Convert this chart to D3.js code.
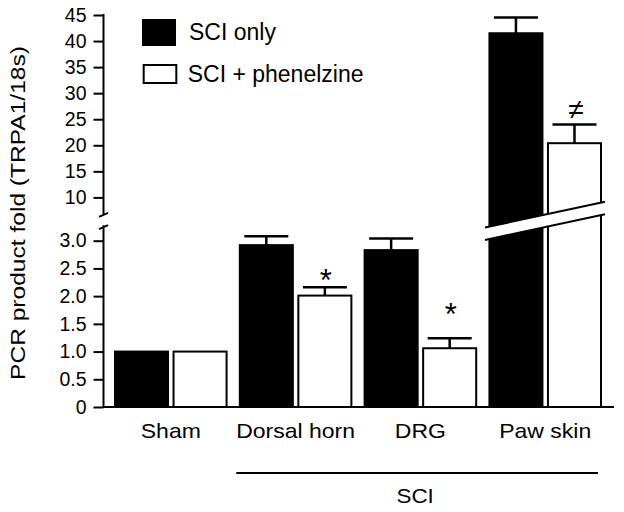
<!DOCTYPE html>
<html>
<head>
<meta charset="utf-8">
<script src="https://cdn.jsdelivr.net/npm/d3@7"></script>
<style>
html,body{margin:0;padding:0;background:#fff;}
svg{display:block;font-family:"Liberation Sans",Arial,Helvetica,sans-serif;}
</style>
</head>
<body>
<svg id="chart" width="624" height="512"></svg>
<script>
// ---- data ----
const categories = ["Sham", "Dorsal horn", "DRG", "Paw skin"];
const seriesNames = ["SCI only", "SCI + phenelzine"];
const sciOnly = [1.0, 2.92, 2.83, 41.5];
const sciOnlyErr = [0, 0.16, 0.21, 3.0];
const sciPhen = [1.0, 2.01, 1.06, 20.4];
const sciPhenErr = [0, 0.15, 0.18, 3.6];
const lowTicks = [0, 0.5, 1.0, 1.5, 2.0, 2.5, 3.0];
const lowTickLabels = ["0", "0.5", "1.0", "1.5", "2.0", "2.5", "3.0"];
const highTicks = [10, 15, 20, 25, 30, 35, 40, 45];
const markCats = ["Dorsal horn", "DRG", "Paw skin"];
const markSymbols = ["*", "*", "\u2260"];
const markValues = [2.41, 1.79, 26.8];
const brokenCat = "Paw skin";

// ---- layout ----
const svg = d3.select("#chart");
const axisX = 103.5;
const yLow = d3.scaleLinear().domain([0, 3]).range([407, 240.7]);
const yHigh = d3.scaleLinear().domain([10, 45]).range([197.4, 15]);
const lowTopValue = 3.28, highBottomValue = 6.75;
const x = d3.scaleBand().domain(categories).range([114, 602]).paddingInner(0.09).paddingOuter(0);
const xs = d3.scaleBand().domain(seriesNames).range([1, x.bandwidth() - 1]).paddingInner(0.094);
const fills = {"SCI only": "#000", "SCI + phenelzine": "#fff"};

// break lines on the broken bars
const bx0 = 485, bx1 = 605;
const topLine = xx => 227.5 + (xx - bx0) * (-25.8 / 120);
const botLine = xx => 240 + (xx - bx0) * (-25.8 / 120);

const defs = svg.append("defs");
defs.append("clipPath").attr("id", "clipUp").append("polygon")
  .attr("points", [[460, topLine(460)], [624, topLine(624)], [624, 0], [460, 0]].map(p => p.join(",")).join(" "));
defs.append("clipPath").attr("id", "clipLow").append("polygon")
  .attr("points", [[460, botLine(460)], [624, botLine(624)], [624, 512], [460, 512]].map(p => p.join(",")).join(" "));

const rows = categories.map((c, i) => ({
  cat: c,
  bars: [
    {s: seriesNames[0], v: sciOnly[i], e: sciOnlyErr[i]},
    {s: seriesNames[1], v: sciPhen[i], e: sciPhenErr[i]}
  ]
}));

const barG = svg.append("g");
function errBar(cx, y0, y1) {
  barG.append("line").attr("x1", cx).attr("x2", cx).attr("y1", y0).attr("y2", y1)
    .attr("stroke", "#000").attr("stroke-width", 2.5);
  barG.append("line").attr("x1", cx - 22).attr("x2", cx + 22).attr("y1", y1).attr("y2", y1)
    .attr("stroke", "#000").attr("stroke-width", 2.5);
}
rows.forEach(r => {
  r.bars.forEach(b => {
    const bx = x(r.cat) + xs(b.s), bw = xs.bandwidth();
    if (r.cat === brokenCat) {
      barG.append("rect").attr("clip-path", "url(#clipLow)")
        .attr("x", bx).attr("width", bw)
        .attr("y", yLow(3.7)).attr("height", yLow(0) - yLow(3.7))
        .attr("fill", fills[b.s]).attr("stroke", "#000").attr("stroke-width", 2);
      barG.append("rect").attr("clip-path", "url(#clipUp)")
        .attr("x", bx).attr("width", bw)
        .attr("y", yHigh(b.v)).attr("height", yHigh(3) - yHigh(b.v))
        .attr("fill", fills[b.s]).attr("stroke", "#000").attr("stroke-width", 2);
      if (b.e > 0) errBar(bx + bw / 2, yHigh(b.v), yHigh(b.v + b.e));
    } else {
      barG.append("rect")
        .attr("x", bx).attr("width", bw)
        .attr("y", yLow(b.v)).attr("height", yLow(0) - yLow(b.v))
        .attr("fill", fills[b.s]).attr("stroke", "#000").attr("stroke-width", 2);
      if (b.e > 0) errBar(bx + bw / 2, yLow(b.v), yLow(b.v + b.e));
    }
  });
});

// break lines
[topLine, botLine].forEach(f => {
  svg.append("line").attr("x1", bx0).attr("x2", bx1).attr("y1", f(bx0)).attr("y2", f(bx1))
    .attr("stroke", "#000").attr("stroke-width", 2);
});

// significance marks
markCats.forEach((c, i) => {
  const cx = x(c) + xs(seriesNames[1]) + xs.bandwidth() / 2;
  const isHigh = c === brokenCat;
  const cy = isHigh ? yHigh(markValues[i]) : yLow(markValues[i]);
  const sym = markSymbols[i];
  svg.append("text").attr("x", cx + (sym === "*" ? 1 : 1.5))
    .attr("y", cy + (sym === "*" ? 17.5 : 9.5))
    .attr("text-anchor", "middle")
    .attr("font-size", sym === "*" ? 31 : 28)
    .text(sym);
});

// axes
const axLow = d3.axisLeft(yLow).tickValues(lowTicks).tickFormat((d, i) => lowTickLabels[i])
  .tickSize(10).tickPadding(7).tickSizeOuter(0);
const axHigh = d3.axisLeft(yHigh).tickValues(highTicks).tickFormat(d3.format("d"))
  .tickSize(10).tickPadding(7).tickSizeOuter(0);
[axLow, axHigh].forEach(ax => {
  const g = svg.append("g").attr("transform", `translate(${axisX},0)`).call(ax);
  g.select(".domain").remove();
  g.selectAll(".tick line").attr("stroke", "#000").attr("stroke-width", 2);
  g.selectAll(".tick text").attr("fill", "#000").attr("font-size", 19.5)
    .attr("font-family", '"Liberation Sans",Arial,sans-serif');
});
// axis spines with break
svg.append("line").attr("x1", axisX).attr("x2", axisX).attr("y1", yLow(0)).attr("y2", yLow(lowTopValue))
  .attr("stroke", "#000").attr("stroke-width", 2);
svg.append("line").attr("x1", axisX).attr("x2", axisX).attr("y1", yHigh(45) - 1).attr("y2", yHigh(highBottomValue))
  .attr("stroke", "#000").attr("stroke-width", 2);
svg.append("line").attr("x1", axisX - 4.5).attr("x2", axisX + 4.5)
  .attr("y1", yHigh(highBottomValue) + 2.5).attr("y2", yHigh(highBottomValue) - 1.5)
  .attr("stroke", "#000").attr("stroke-width", 2);
svg.append("line").attr("x1", axisX - 4.5).attr("x2", axisX + 4.5)
  .attr("y1", yLow(lowTopValue) + 4).attr("y2", yLow(lowTopValue))
  .attr("stroke", "#000").attr("stroke-width", 2);
// x baseline
svg.append("line").attr("x1", axisX - 1).attr("x2", 614).attr("y1", yLow(0)).attr("y2", yLow(0))
  .attr("stroke", "#000").attr("stroke-width", 2);

// category labels
categories.forEach(c => {
  svg.append("text")
    .attr("transform", `translate(${x(c) + x.bandwidth() / 2},438) scale(1.15,1)`)
    .attr("text-anchor", "middle").attr("font-size", 20).text(c);
});
// SCI grouping line
const gx0 = x("Dorsal horn") - 2.5, gx1 = x("Paw skin") + x.bandwidth() - 4;
svg.append("line").attr("x1", gx0).attr("x2", gx1).attr("y1", 473).attr("y2", 473)
  .attr("stroke", "#000").attr("stroke-width", 2);
svg.append("text").attr("transform", `translate(${(gx0 + gx1) / 2 - 2},503) scale(1.12,1)`)
  .attr("text-anchor", "middle").attr("font-size", 20).text("SCI");

// y label
svg.append("text").attr("transform", "translate(25,213) rotate(-90) scale(1.17,1)")
  .attr("text-anchor", "middle").attr("font-size", 21).text("PCR product fold (TRPA1/18s)");

// legend
const leg = [
  {s: seriesNames[0], rx: 142, ry: 19, rw: 34, rh: 27, tx: 189, ty: 40},
  {s: seriesNames[1], rx: 143.7, ry: 65, rw: 32.6, rh: 18, tx: 187.7, ty: 81.5}
];
leg.forEach(l => {
  svg.append("rect").attr("x", l.rx).attr("y", l.ry).attr("width", l.rw).attr("height", l.rh)
    .attr("fill", fills[l.s]).attr("stroke", "#000").attr("stroke-width", l.s === seriesNames[0] ? 0 : 2);
  svg.append("text").attr("x", l.tx).attr("y", l.ty).attr("font-size", 23).text(l.s);
});
</script>
</body>
</html>
